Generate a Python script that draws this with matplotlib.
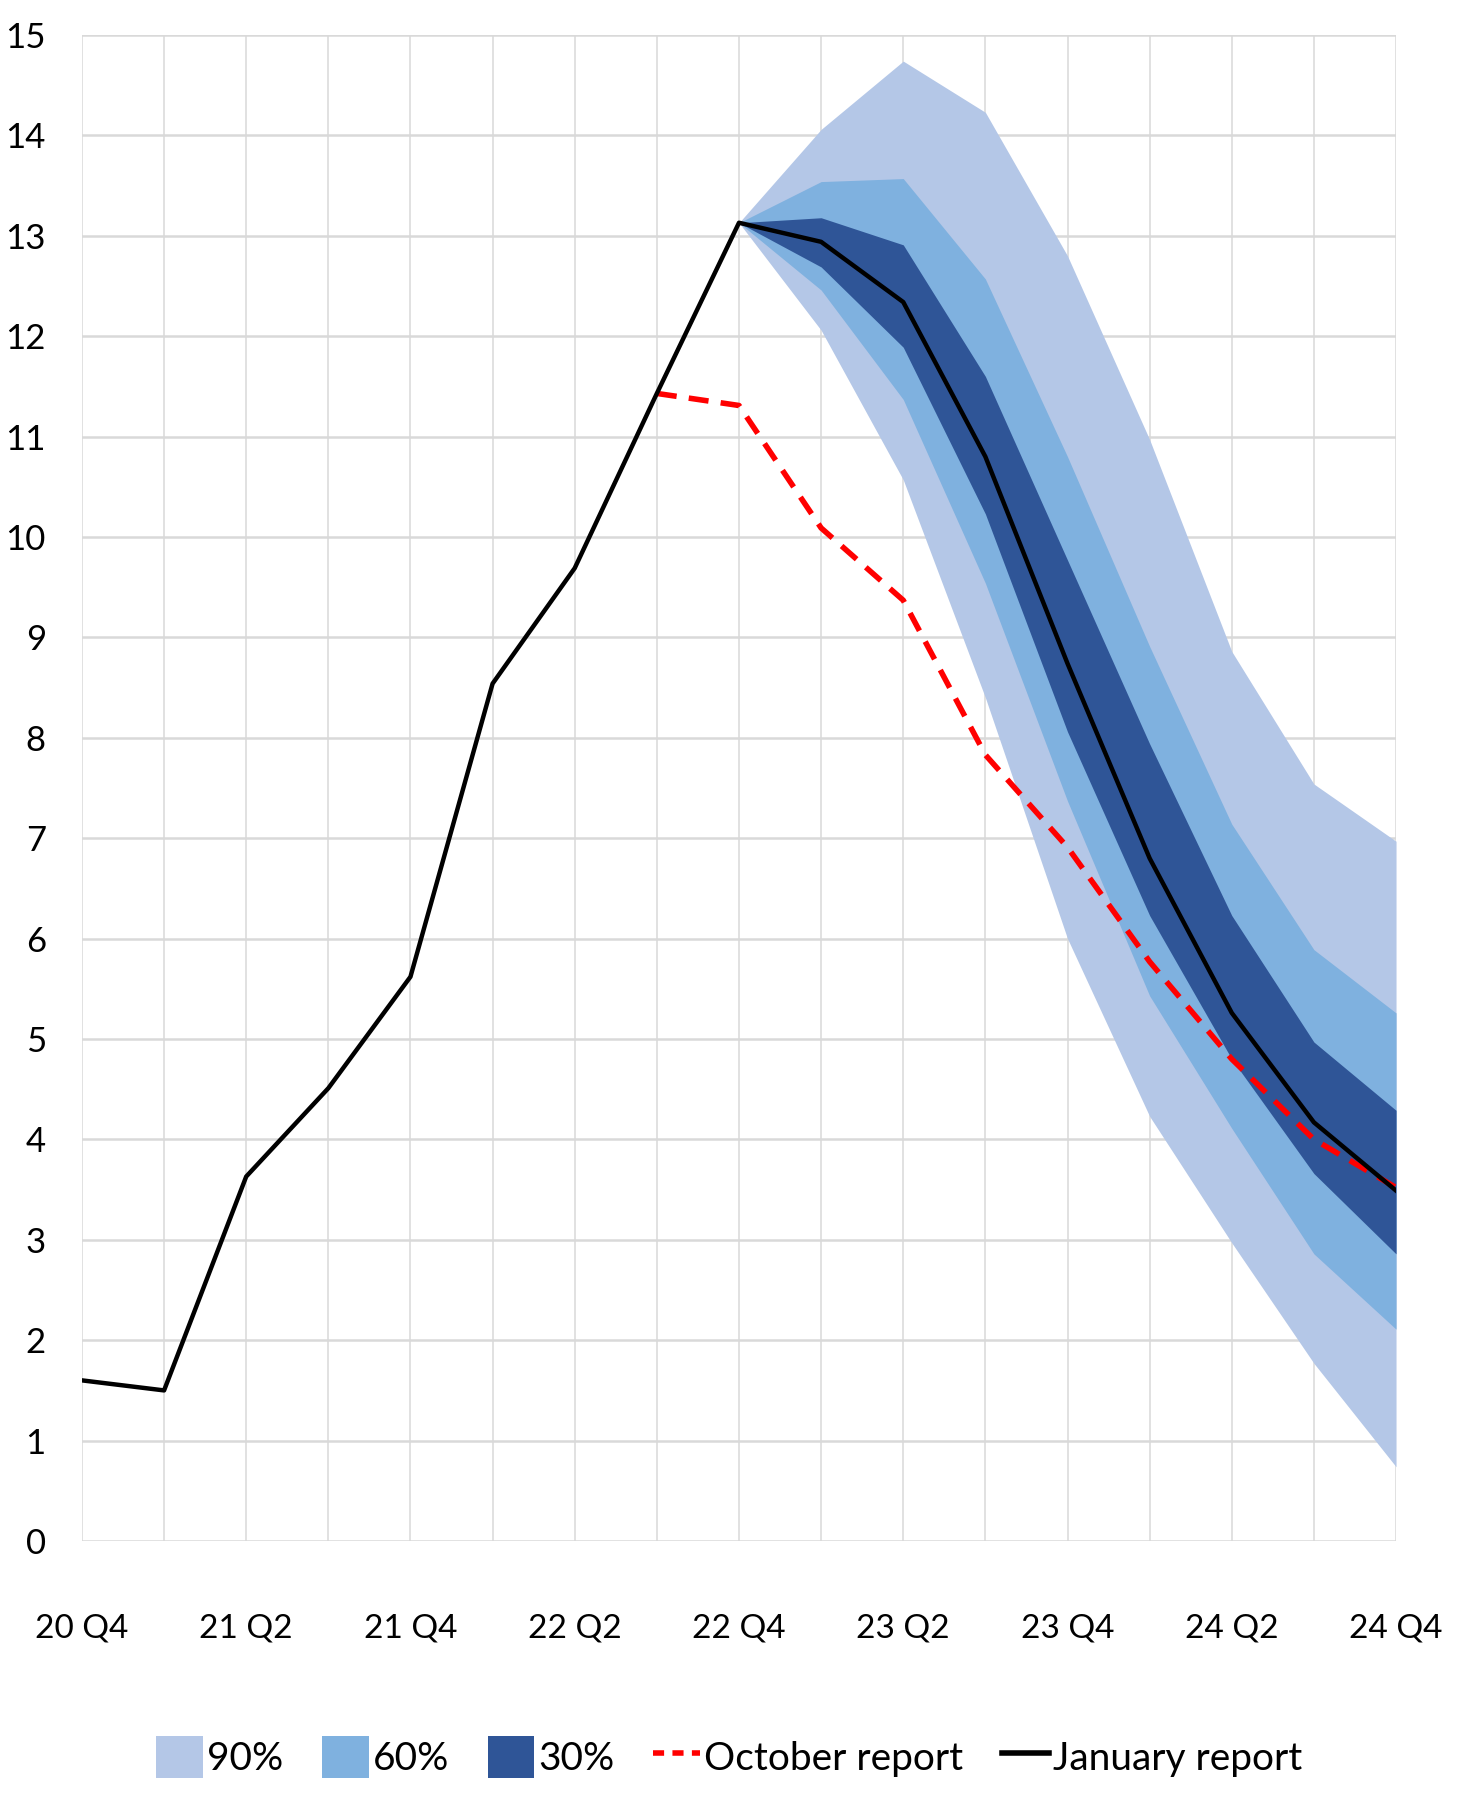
import matplotlib
matplotlib.use('Agg')
import matplotlib.pyplot as plt
from matplotlib.patches import Patch
from matplotlib.lines import Line2D

plt.rcParams['font.family'] = ['Lato', 'DejaVu Sans']

# Data
# ----------------------------------------------------------------------------

quarters = ['20 Q4', '21 Q1', '21 Q2', '21 Q3', '21 Q4', '22 Q1', '22 Q2', '22 Q3',
            '22 Q4', '23 Q1', '23 Q2', '23 Q3', '23 Q4', '24 Q1', '24 Q2', '24 Q3', '24 Q4']

january = [1.60, 1.50, 3.63, 4.51, 5.62, 8.54, 9.69, 11.43, 13.13,
           12.94, 12.34, 10.80, 8.74, 6.80, 5.26, 4.17, 3.49]

# October report, visible from 22 Q3 (index 7) onwards
october_start = 7
october = [11.43, 11.31, 10.09, 9.37, 7.83, 6.91, 5.77, 4.80, 4.00, 3.52]

# fan chart bands start at 22 Q4 (index 8)
band_start = 8
upper90 = [13.13, 14.06, 14.74, 14.23, 12.80, 10.97, 8.86, 7.54, 6.97]
lower90 = [13.13, 12.06, 10.57, 8.40, 6.00, 4.23, 2.97, 1.77, 0.74]
upper60 = [13.13, 13.54, 13.57, 12.57, 10.80, 8.91, 7.14, 5.89, 5.26]
lower60 = [13.13, 12.46, 11.37, 9.54, 7.37, 5.43, 4.11, 2.86, 2.11]
upper30 = [13.13, 13.18, 12.91, 11.60, 9.77, 7.94, 6.23, 4.97, 4.29]
lower30 = [13.13, 12.69, 11.89, 10.23, 8.06, 6.23, 4.80, 3.66, 2.86]

c90, c60, c30 = '#b4c7e7', '#7fb1df', '#2f5597'

# Plot
# ----------------------------------------------------------------------------

x = list(range(len(quarters)))
xb = x[band_start:]
xo = x[october_start:]

fig = plt.figure(figsize=(14.58, 17.95), dpi=100)
ax = fig.add_axes([0.0562, 0.1415, 0.9013, 0.839])

ax.fill_between(xb, lower90, upper90, color=c90, lw=0, zorder=2)
ax.fill_between(xb, lower60, upper60, color=c60, lw=0, zorder=3)
ax.fill_between(xb, lower30, upper30, color=c30, lw=0, zorder=4)
ax.plot(xo, october, color='#ff0000', lw=4, dashes=(3.6, 2.2), zorder=5)
ax.plot(x, january, color='black', lw=3.2, zorder=6)

ax.set_xlim(0, 16)
ax.set_ylim(0, 15)
ax.set_xticks(x)
ax.set_xticklabels([q if i % 2 == 0 else '' for i, q in enumerate(quarters)])
ax.set_yticks(range(16))
ax.tick_params(axis='x', length=0, pad=52, labelsize=24)
ax.tick_params(axis='y', length=0, pad=26, labelsize=25)
ax.grid(axis='y', color='#d9d9d9', lw=1.8, zorder=0)
ax.grid(axis='x', color='#d9d9d9', lw=1.1, zorder=0)
ax.set_axisbelow(True)
for s in ax.spines.values():
    s.set_visible(False)

handles = [Patch(facecolor=c90, label='90%'),
           Patch(facecolor=c60, label='60%'),
           Patch(facecolor=c30, label='30%'),
           Line2D([], [], color='#ff0000', lw=4, dashes=(2, 1.5), label='October report'),
           Line2D([], [], color='black', lw=4, label='January report')]
fig.legend(handles=handles, loc='center', bbox_to_anchor=(0.5, 0.021), ncol=5,
           frameon=False, fontsize=28, handlelength=1.2, handleheight=1.3,
           handletextpad=0.1, columnspacing=1.0)

fig.savefig('out.png', dpi=100)
